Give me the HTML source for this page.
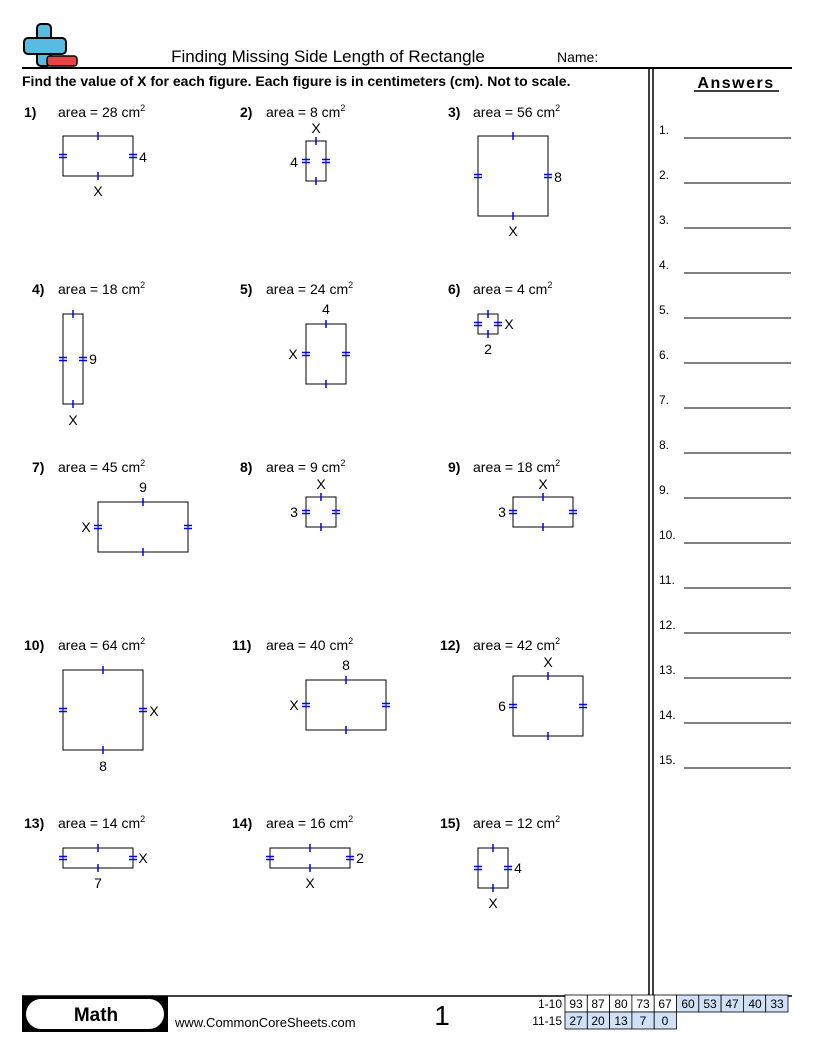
<!DOCTYPE html>
<html><head><meta charset="utf-8"><style>
body{margin:0;background:#fff}
svg{display:block}
text{font-family:"Liberation Sans",sans-serif;}
</style></head><body>
<svg width="816" height="1056" viewBox="0 0 816 1056" xmlns="http://www.w3.org/2000/svg">
<!-- logo -->
<rect x="37" y="24" width="14" height="42" rx="4" fill="#56bde0" stroke="#000" stroke-width="2"/>
<rect x="24" y="38" width="42" height="16" rx="4" fill="#56bde0" stroke="#000" stroke-width="2"/>
<rect x="38" y="39" width="12" height="14" fill="#56bde0"/>
<rect x="47" y="56" width="30" height="10" rx="3" fill="#e64545" stroke="#000" stroke-width="1.5"/>
<text x="328" y="62" font-size="17" text-anchor="middle">Finding Missing Side Length of Rectangle</text>
<text x="557" y="62" font-size="14">Name:</text>
<line x1="22" y1="68" x2="792" y2="68" stroke="#000" stroke-width="2"/>
<text x="22" y="86" font-size="14" font-weight="bold">Find the value of X for each figure. Each figure is in centimeters (cm). Not to scale.</text>
<line x1="649" y1="68" x2="649" y2="995" stroke="#000" stroke-width="1.5"/>
<line x1="653" y1="68" x2="653" y2="995" stroke="#000" stroke-width="1.5"/>
<text x="736" y="88" font-size="16" font-weight="bold" text-anchor="middle" letter-spacing="1.5">Answers</text>
<line x1="694" y1="91" x2="779" y2="91" stroke="#000" stroke-width="1.5"/>
<g font-size="12" stroke="#000">
<g stroke="none">
<text x="659" y="134">1.</text><text x="659" y="179">2.</text><text x="659" y="224">3.</text><text x="659" y="269">4.</text><text x="659" y="314">5.</text><text x="659" y="359">6.</text><text x="659" y="404">7.</text><text x="659" y="449">8.</text><text x="659" y="494">9.</text><text x="659" y="539">10.</text><text x="659" y="584">11.</text><text x="659" y="629">12.</text><text x="659" y="674">13.</text><text x="659" y="719">14.</text><text x="659" y="764">15.</text>
</g>
<line x1="684" y1="138" x2="791" y2="138"/><line x1="684" y1="183" x2="791" y2="183"/><line x1="684" y1="228" x2="791" y2="228"/><line x1="684" y1="273" x2="791" y2="273"/><line x1="684" y1="318" x2="791" y2="318"/><line x1="684" y1="363" x2="791" y2="363"/><line x1="684" y1="408" x2="791" y2="408"/><line x1="684" y1="453" x2="791" y2="453"/><line x1="684" y1="498" x2="791" y2="498"/><line x1="684" y1="543" x2="791" y2="543"/><line x1="684" y1="588" x2="791" y2="588"/><line x1="684" y1="633" x2="791" y2="633"/><line x1="684" y1="678" x2="791" y2="678"/><line x1="684" y1="723" x2="791" y2="723"/><line x1="684" y1="768" x2="791" y2="768"/>
</g>
<!-- headers -->
<g font-size="14">
<text x="24" y="117" font-weight="bold">1)</text><text x="58" y="117">area = 28 cm<tspan font-size="9" dy="-6">2</tspan></text>
<text x="240" y="117" font-weight="bold">2)</text><text x="266" y="117">area = 8 cm<tspan font-size="9" dy="-6">2</tspan></text>
<text x="448" y="117" font-weight="bold">3)</text><text x="473" y="117">area = 56 cm<tspan font-size="9" dy="-6">2</tspan></text>
<text x="32" y="294" font-weight="bold">4)</text><text x="58" y="294">area = 18 cm<tspan font-size="9" dy="-6">2</tspan></text>
<text x="240" y="294" font-weight="bold">5)</text><text x="266" y="294">area = 24 cm<tspan font-size="9" dy="-6">2</tspan></text>
<text x="448" y="294" font-weight="bold">6)</text><text x="473" y="294">area = 4 cm<tspan font-size="9" dy="-6">2</tspan></text>
<text x="32" y="472" font-weight="bold">7)</text><text x="58" y="472">area = 45 cm<tspan font-size="9" dy="-6">2</tspan></text>
<text x="240" y="472" font-weight="bold">8)</text><text x="266" y="472">area = 9 cm<tspan font-size="9" dy="-6">2</tspan></text>
<text x="448" y="472" font-weight="bold">9)</text><text x="473" y="472">area = 18 cm<tspan font-size="9" dy="-6">2</tspan></text>
<text x="24" y="650" font-weight="bold">10)</text><text x="58" y="650">area = 64 cm<tspan font-size="9" dy="-6">2</tspan></text>
<text x="232" y="650" font-weight="bold">11)</text><text x="266" y="650">area = 40 cm<tspan font-size="9" dy="-6">2</tspan></text>
<text x="440" y="650" font-weight="bold">12)</text><text x="473" y="650">area = 42 cm<tspan font-size="9" dy="-6">2</tspan></text>
<text x="24" y="828" font-weight="bold">13)</text><text x="58" y="828">area = 14 cm<tspan font-size="9" dy="-6">2</tspan></text>
<text x="232" y="828" font-weight="bold">14)</text><text x="266" y="828">area = 16 cm<tspan font-size="9" dy="-6">2</tspan></text>
<text x="440" y="828" font-weight="bold">15)</text><text x="473" y="828">area = 12 cm<tspan font-size="9" dy="-6">2</tspan></text>
</g>
<!-- rectangles -->
<g fill="none" stroke="#000" stroke-width="1">
<rect x="63" y="136" width="70" height="40"/>
<rect x="306" y="141" width="20" height="40"/>
<rect x="478" y="136" width="70" height="80"/>
<rect x="63" y="314" width="20" height="90"/>
<rect x="306" y="324" width="40" height="60"/>
<rect x="478" y="314" width="20" height="20"/>
<rect x="98" y="502" width="90" height="50"/>
<rect x="306" y="497" width="30" height="30"/>
<rect x="513" y="497" width="60" height="30"/>
<rect x="63" y="670" width="80" height="80"/>
<rect x="306" y="680" width="80" height="50"/>
<rect x="513" y="676" width="70" height="60"/>
<rect x="63" y="848" width="70" height="20"/>
<rect x="270" y="848" width="80" height="20"/>
<rect x="478" y="848" width="30" height="40"/>
</g>
<!-- ticks -->
<g stroke="#0000ff" stroke-width="1.5">
<path d="M98 132v8M98 172v8M59 154.5h8M59 157.5h8M129 154.5h8M129 157.5h8"/>
<path d="M316 137v8M316 177v8M302 159.5h8M302 162.5h8M322 159.5h8M322 162.5h8"/>
<path d="M513 132v8M513 212v8M474 174.5h8M474 177.5h8M544 174.5h8M544 177.5h8"/>
<path d="M73 310v8M73 400v8M59 357.5h8M59 360.5h8M79 357.5h8M79 360.5h8"/>
<path d="M326 320v8M326 380v8M302 352.5h8M302 355.5h8M342 352.5h8M342 355.5h8"/>
<path d="M488 310v8M488 330v8M474 322.5h8M474 325.5h8M494 322.5h8M494 325.5h8"/>
<path d="M143 498v8M143 548v8M94 525.5h8M94 528.5h8M184 525.5h8M184 528.5h8"/>
<path d="M321 493v8M321 523v8M302 510.5h8M302 513.5h8M332 510.5h8M332 513.5h8"/>
<path d="M543 493v8M543 523v8M509 510.5h8M509 513.5h8M569 510.5h8M569 513.5h8"/>
<path d="M103 666v8M103 746v8M59 708.5h8M59 711.5h8M139 708.5h8M139 711.5h8"/>
<path d="M346 676v8M346 726v8M302 703.5h8M302 706.5h8M382 703.5h8M382 706.5h8"/>
<path d="M548 672v8M548 732v8M509 704.5h8M509 707.5h8M579 704.5h8M579 707.5h8"/>
<path d="M98 844v8M98 864v8M59 856.5h8M59 859.5h8M129 856.5h8M129 859.5h8"/>
<path d="M310 844v8M310 864v8M266 856.5h8M266 859.5h8M346 856.5h8M346 859.5h8"/>
<path d="M493 844v8M493 884v8M474 866.5h8M474 869.5h8M504 866.5h8M504 869.5h8"/>
</g>
<!-- side labels -->
<g font-size="14" text-anchor="middle">
<text x="143" y="162">4</text><text x="98" y="196">X</text>
<text x="316" y="133">X</text><text x="294" y="167">4</text>
<text x="558" y="182">8</text><text x="513" y="236">X</text>
<text x="93" y="364">9</text><text x="73" y="425">X</text>
<text x="326" y="314">4</text><text x="293" y="359">X</text>
<text x="509" y="329">X</text><text x="488" y="354">2</text>
<text x="143" y="492">9</text><text x="86" y="532">X</text>
<text x="321" y="489">X</text><text x="294" y="517">3</text>
<text x="543" y="489">X</text><text x="502" y="517">3</text>
<text x="154" y="716">X</text><text x="103" y="771">8</text>
<text x="346" y="670">8</text><text x="294" y="710">X</text>
<text x="548" y="667">X</text><text x="502" y="711">6</text>
<text x="143" y="863">X</text><text x="98" y="888">7</text>
<text x="360" y="863">2</text><text x="310" y="888">X</text>
<text x="518" y="873">4</text><text x="493" y="908">X</text>
</g>
<!-- footer -->
<line x1="22" y1="996" x2="792" y2="996" stroke="#000" stroke-width="1.5"/>
<rect x="22" y="996" width="146" height="36" fill="#000"/>
<rect x="26" y="999" width="138" height="30" rx="15" fill="#fff"/>
<text x="96" y="1021" font-size="19" font-weight="bold" text-anchor="middle">Math</text>
<text x="175" y="1027" font-size="13">www.CommonCoreSheets.com</text>
<text x="442" y="1025" font-size="28" text-anchor="middle">1</text>
<g font-size="12" text-anchor="middle">
<text x="562" y="1008" text-anchor="end">1-10</text><text x="562" y="1025" text-anchor="end">11-15</text>
<g stroke="#000" stroke-width="0.8">
<rect x="565" y="995" width="22.3" height="17" fill="#fff"/><rect x="587.3" y="995" width="22.3" height="17" fill="#fff"/><rect x="609.6" y="995" width="22.3" height="17" fill="#fff"/><rect x="631.9" y="995" width="22.3" height="17" fill="#fff"/><rect x="654.2" y="995" width="22.3" height="17" fill="#fff"/>
<rect x="676.5" y="995" width="22.3" height="17" fill="#cfe0f7"/><rect x="698.8" y="995" width="22.3" height="17" fill="#cfe0f7"/><rect x="721.1" y="995" width="22.3" height="17" fill="#cfe0f7"/><rect x="743.4" y="995" width="22.3" height="17" fill="#cfe0f7"/><rect x="765.7" y="995" width="22.3" height="17" fill="#cfe0f7"/>
<rect x="565" y="1012" width="22.3" height="17" fill="#cfe0f7"/><rect x="587.3" y="1012" width="22.3" height="17" fill="#cfe0f7"/><rect x="609.6" y="1012" width="22.3" height="17" fill="#cfe0f7"/><rect x="631.9" y="1012" width="22.3" height="17" fill="#cfe0f7"/><rect x="654.2" y="1012" width="22.3" height="17" fill="#cfe0f7"/>
</g>
<text x="576" y="1008">93</text><text x="598" y="1008">87</text><text x="621" y="1008">80</text><text x="643" y="1008">73</text><text x="665" y="1008">67</text>
<text x="688" y="1008">60</text><text x="710" y="1008">53</text><text x="732" y="1008">47</text><text x="755" y="1008">40</text><text x="777" y="1008">33</text>
<text x="576" y="1025">27</text><text x="598" y="1025">20</text><text x="621" y="1025">13</text><text x="643" y="1025">7</text><text x="665" y="1025">0</text>
</g>
</svg>
</body></html>
